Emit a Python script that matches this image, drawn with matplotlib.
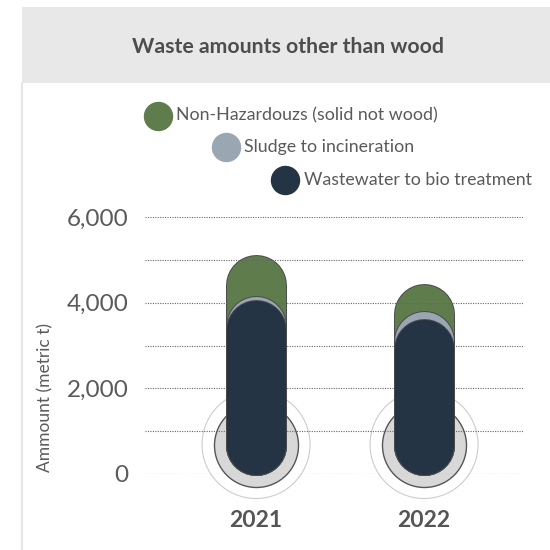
import matplotlib
matplotlib.use('Agg')
import matplotlib.pyplot as plt
import matplotlib.patheffects as pe
from matplotlib.patches import Rectangle
from matplotlib.lines import Line2D

# ---- data ----
years = ['2021', '2022']
series_names = ['Non-Hazardouzs (solid not wood)', 'Sludge to incineration',
                'Wastewater to bio treatment']
non_hazardous = [5100, 4430]
sludge = [4150, 3790]
wastewater = [4060, 3600]
y_ticks = [0, 2000, 4000, 6000]
y_tick_labels = ['0', '2,000', '4,000', '6,000']
title = 'Waste amounts other than wood'
y_label = 'Ammount (metric t)'

colors = ['#5f7d4c', '#9ba6b3', '#243444']
series = [non_hazardous, sludge, wastewater]

plt.rcParams['font.family'] = ['Lato', 'DejaVu Sans']
W = H = 550
fig = plt.figure(figsize=(5.5, 5.5), dpi=100)


def px(x0, y0, x1, y1):
    return [x0 / W, 1 - y1 / H, (x1 - x0) / W, (y1 - y0) / H]


# header band and panel border
fig.add_artist(Rectangle((22 / W, 1 - 83 / H), 1 - 22 / W, 76 / H,
                         transform=fig.transFigure, facecolor='#e8e8e8',
                         edgecolor='none', zorder=0))
fig.add_artist(Line2D([22 / W, 22 / W], [0, 1 - 83 / H], transform=fig.transFigure,
                      color='#e6e6e6', lw=1.5))
fig.text(288 / W, 1 - 47 / H, title, ha='center', va='center', fontsize=15.3,
         fontweight='bold', color='#4d4d4d')

ax = fig.add_axes(px(145, 217, 523, 474))
ax.set_xlim(-0.661, 1.589)
ax.set_ylim(0, 6000)
for s in ax.spines.values():
    s.set_visible(False)

ax.set_yticks(y_ticks)
ax.set_yticklabels(y_tick_labels)
ax.set_yticks(range(0, 6001, 1000), minor=True)
ax.grid(which='both', axis='y', linestyle=(0, (1, 1.2)), color='#666666', lw=0.8, zorder=1)
ax.grid(False, axis='x')
ax.set_axisbelow(False)
ax.tick_params(axis='both', which='both', length=0)
ax.tick_params(axis='y', pad=12, labelsize=17.5, labelcolor='#5a5a5a')
xs = list(range(len(years)))
ax.set_xticks(xs)
ax.set_xticklabels(years, fontsize=16.5, fontweight='bold', color='#555555')
ax.tick_params(axis='x', pad=26)
ax.set_ylabel(y_label, fontsize=12.5, color='#5a5a5a')
ax.yaxis.set_label_coords(-0.243, 0.296)

# bar geometry
bar_px = 59
lw_pt = bar_px * 72 / fig.dpi
r_data = (bar_px / 2) * 6000 / (257)

# decorative bottom circles
ax.scatter(xs, [r_data] * len(xs), s=(108 * 0.72) ** 2, facecolor='none',
           edgecolor='#cccccc', linewidth=0.8, zorder=0.4, clip_on=False)
ax.scatter(xs, [r_data] * len(xs), s=(84 * 0.72) ** 2, facecolor='#d9d8d9',
           edgecolor='#555555', linewidth=1.0, zorder=0.5, clip_on=False)

for k, (vals, c) in enumerate(zip(series, colors)):
    for x, v in zip(xs, vals):
        ax.plot([x, x], [r_data, v - r_data], color=c, lw=lw_pt,
                solid_capstyle='round', zorder=2 + k, clip_on=False,
                path_effects=[pe.Stroke(linewidth=lw_pt + 1.4, foreground='#4a4a4a'),
                              pe.Normal()])

# legend
leg_pos = [(157.5, 115.5), (225.5, 147), (285, 180)]
for (cx, cy), name, c in zip(leg_pos, series_names, colors):
    fig.add_artist(Line2D([cx / W], [1 - cy / H], transform=fig.transFigure,
                          marker='o', markersize=28 * 0.72, color=c, ls='none'))
    fig.text((cx + 19) / W, 1 - cy / H, name, ha='left', va='center',
             fontsize=12.8, color='#5a5a5a')

fig.savefig('out.png', dpi=100)
